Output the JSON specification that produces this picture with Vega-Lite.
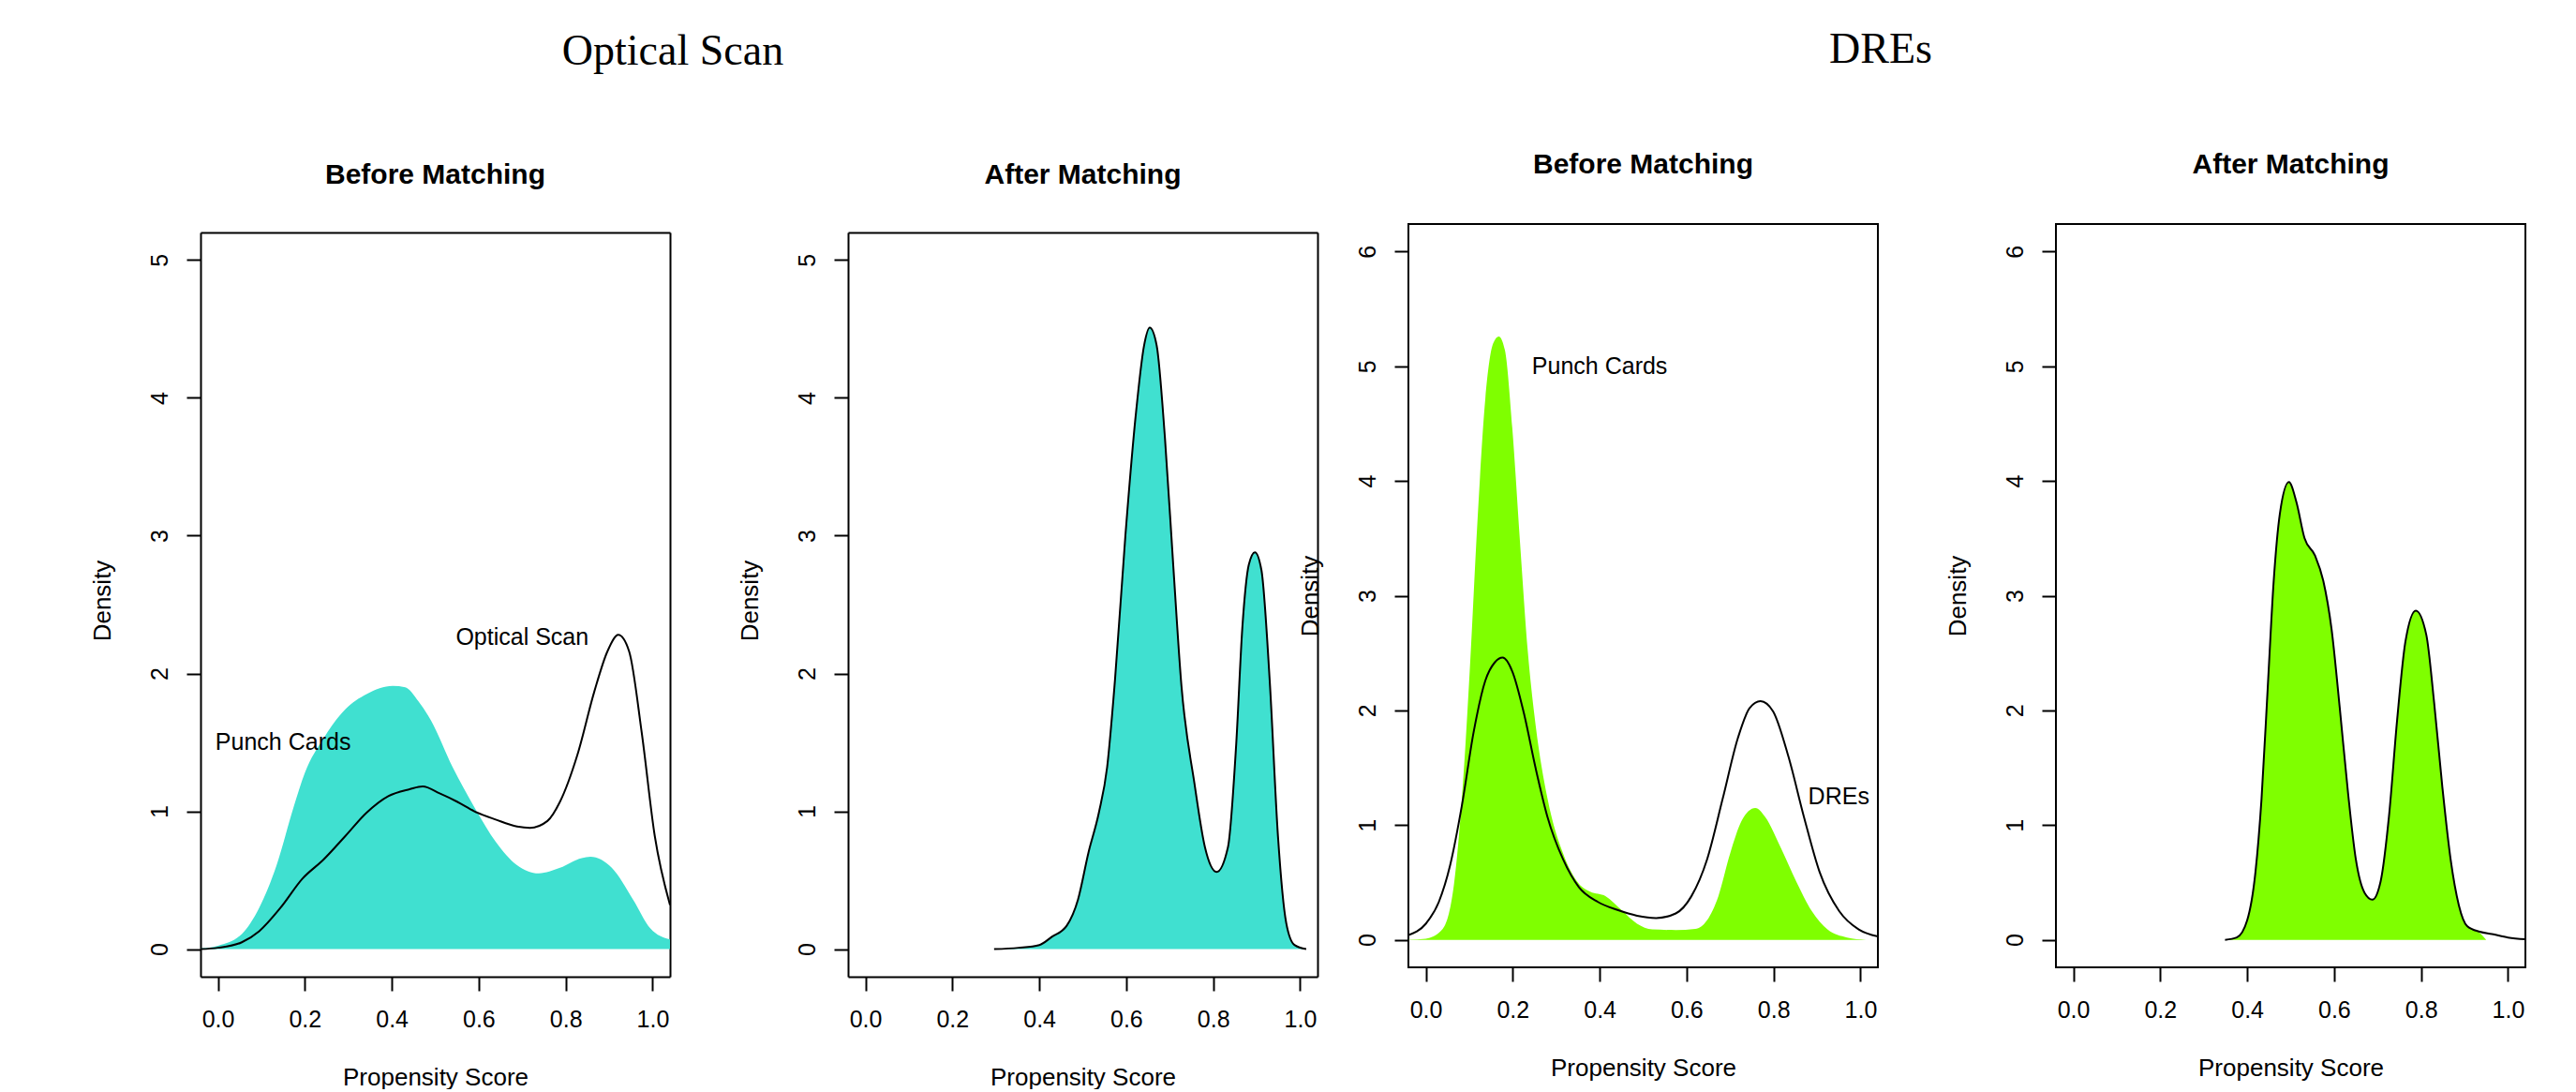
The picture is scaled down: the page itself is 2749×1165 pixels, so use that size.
{
  "$schema": "https://vega.github.io/schema/vega-lite/v6.json",
  "background": "white",
  "autosize": {"type": "pad"},
  "padding": {"left": 96, "top": 30, "right": 0, "bottom": 0},
  "config": {
    "font": "Liberation Sans",
    "view": {"stroke": "black", "strokeWidth": 2},
    "axis": {"domain": false, "grid": false, "tickColor": "black", "tickWidth": 2, "tickSize": 15, "labelColor": "black", "labelFont": "Liberation Sans", "labelFontSize": 25, "titleFont": "Liberation Sans", "titleFontSize": 26, "titleFontWeight": "normal", "titleColor": "black"},
    "axisX": {"labelPadding": 18, "titlePadding": 36, "labelAngle": 0},
    "axisY": {"labelAngle": -90, "labelAlign": "center", "labelBaseline": "bottom", "labelPadding": 16, "titlePadding": 36},
    "title": {"font": "Liberation Sans", "fontSize": 30, "fontWeight": "bold", "color": "black", "anchor": "middle"}
  },
  "datasets": {
    "os_before_pc": [
      {"x": -0.04, "y": 0.005}, {"x": 0.0, "y": 0.025}, {"x": 0.055, "y": 0.11}, {"x": 0.095, "y": 0.3}, {"x": 0.135, "y": 0.61}, {"x": 0.174, "y": 1.03}, {"x": 0.2, "y": 1.28}, {"x": 0.243, "y": 1.53}, {"x": 0.293, "y": 1.74}, {"x": 0.342, "y": 1.85}, {"x": 0.402, "y": 1.91}, {"x": 0.431, "y": 1.9}, {"x": 0.461, "y": 1.8}, {"x": 0.49, "y": 1.66}, {"x": 0.54, "y": 1.32}, {"x": 0.59, "y": 1.03}, {"x": 0.639, "y": 0.78}, {"x": 0.688, "y": 0.61}, {"x": 0.738, "y": 0.55}, {"x": 0.787, "y": 0.59}, {"x": 0.837, "y": 0.66}, {"x": 0.857, "y": 0.67}, {"x": 0.906, "y": 0.59}, {"x": 0.955, "y": 0.36}, {"x": 0.995, "y": 0.15}, {"x": 1.04, "y": 0.07}
    ],
    "os_before_os": [
      {"x": -0.04, "y": 0.0}, {"x": 0.0, "y": 0.01}, {"x": 0.055, "y": 0.05}, {"x": 0.095, "y": 0.13}, {"x": 0.144, "y": 0.3}, {"x": 0.194, "y": 0.51}, {"x": 0.243, "y": 0.65}, {"x": 0.293, "y": 0.82}, {"x": 0.342, "y": 0.99}, {"x": 0.392, "y": 1.11}, {"x": 0.441, "y": 1.16}, {"x": 0.471, "y": 1.18}, {"x": 0.51, "y": 1.13}, {"x": 0.55, "y": 1.07}, {"x": 0.59, "y": 1.0}, {"x": 0.639, "y": 0.94}, {"x": 0.688, "y": 0.89}, {"x": 0.718, "y": 0.88}, {"x": 0.758, "y": 0.93}, {"x": 0.787, "y": 1.07}, {"x": 0.827, "y": 1.41}, {"x": 0.866, "y": 1.87}, {"x": 0.896, "y": 2.16}, {"x": 0.921, "y": 2.28}, {"x": 0.946, "y": 2.16}, {"x": 0.975, "y": 1.57}, {"x": 1.005, "y": 0.82}, {"x": 1.04, "y": 0.32}
    ],
    "os_before_labels": [
      {"x": 0.7, "y": 2.26, "label": "Optical Scan"},
      {"x": 0.15, "y": 1.5, "label": "Punch Cards"}
    ],
    "os_after": [
      {"x": 0.296, "y": 0.0}, {"x": 0.352, "y": 0.01}, {"x": 0.4, "y": 0.03}, {"x": 0.429, "y": 0.09}, {"x": 0.463, "y": 0.17}, {"x": 0.489, "y": 0.36}, {"x": 0.513, "y": 0.7}, {"x": 0.537, "y": 0.99}, {"x": 0.556, "y": 1.32}, {"x": 0.574, "y": 1.95}, {"x": 0.598, "y": 3.0}, {"x": 0.622, "y": 3.88}, {"x": 0.641, "y": 4.38}, {"x": 0.654, "y": 4.51}, {"x": 0.67, "y": 4.38}, {"x": 0.689, "y": 3.71}, {"x": 0.708, "y": 2.79}, {"x": 0.727, "y": 1.91}, {"x": 0.757, "y": 1.2}, {"x": 0.781, "y": 0.74}, {"x": 0.808, "y": 0.56}, {"x": 0.834, "y": 0.74}, {"x": 0.853, "y": 1.49}, {"x": 0.867, "y": 2.33}, {"x": 0.882, "y": 2.79}, {"x": 0.896, "y": 2.88}, {"x": 0.911, "y": 2.75}, {"x": 0.93, "y": 1.95}, {"x": 0.949, "y": 0.82}, {"x": 0.968, "y": 0.19}, {"x": 0.987, "y": 0.03}, {"x": 1.014, "y": 0.0}
    ],
    "dre_before_pc": [
      {"x": -0.041, "y": 0.0}, {"x": 0.0, "y": 0.01}, {"x": 0.038, "y": 0.09}, {"x": 0.065, "y": 0.49}, {"x": 0.083, "y": 1.23}, {"x": 0.101, "y": 2.34}, {"x": 0.119, "y": 3.66}, {"x": 0.137, "y": 4.72}, {"x": 0.155, "y": 5.2}, {"x": 0.168, "y": 5.26}, {"x": 0.182, "y": 5.14}, {"x": 0.199, "y": 4.46}, {"x": 0.217, "y": 3.45}, {"x": 0.235, "y": 2.5}, {"x": 0.253, "y": 1.86}, {"x": 0.28, "y": 1.23}, {"x": 0.316, "y": 0.75}, {"x": 0.352, "y": 0.49}, {"x": 0.378, "y": 0.42}, {"x": 0.414, "y": 0.38}, {"x": 0.45, "y": 0.26}, {"x": 0.486, "y": 0.14}, {"x": 0.521, "y": 0.09}, {"x": 0.575, "y": 0.085}, {"x": 0.62, "y": 0.095}, {"x": 0.647, "y": 0.17}, {"x": 0.673, "y": 0.38}, {"x": 0.7, "y": 0.75}, {"x": 0.727, "y": 1.04}, {"x": 0.758, "y": 1.15}, {"x": 0.781, "y": 1.07}, {"x": 0.817, "y": 0.8}, {"x": 0.852, "y": 0.51}, {"x": 0.888, "y": 0.25}, {"x": 0.924, "y": 0.09}, {"x": 0.969, "y": 0.02}, {"x": 1.013, "y": 0.0}
    ],
    "dre_before_dre": [
      {"x": -0.041, "y": 0.04}, {"x": 0.0, "y": 0.14}, {"x": 0.03, "y": 0.33}, {"x": 0.056, "y": 0.65}, {"x": 0.083, "y": 1.17}, {"x": 0.11, "y": 1.81}, {"x": 0.137, "y": 2.26}, {"x": 0.159, "y": 2.42}, {"x": 0.177, "y": 2.46}, {"x": 0.199, "y": 2.34}, {"x": 0.226, "y": 1.97}, {"x": 0.253, "y": 1.49}, {"x": 0.28, "y": 1.07}, {"x": 0.316, "y": 0.7}, {"x": 0.352, "y": 0.46}, {"x": 0.396, "y": 0.33}, {"x": 0.441, "y": 0.26}, {"x": 0.486, "y": 0.21}, {"x": 0.53, "y": 0.19}, {"x": 0.575, "y": 0.23}, {"x": 0.611, "y": 0.38}, {"x": 0.647, "y": 0.7}, {"x": 0.683, "y": 1.23}, {"x": 0.718, "y": 1.76}, {"x": 0.745, "y": 2.02}, {"x": 0.77, "y": 2.08}, {"x": 0.799, "y": 1.99}, {"x": 0.834, "y": 1.6}, {"x": 0.87, "y": 1.07}, {"x": 0.906, "y": 0.59}, {"x": 0.951, "y": 0.25}, {"x": 0.996, "y": 0.09}, {"x": 1.04, "y": 0.03}
    ],
    "dre_before_labels": [
      {"x": 0.4, "y": 5.0, "label": "Punch Cards"},
      {"x": 0.95, "y": 1.25, "label": "DREs"}
    ],
    "dre_after_fill": [
      {"x": 0.349, "y": 0.0}, {"x": 0.376, "y": 0.02}, {"x": 0.4, "y": 0.17}, {"x": 0.419, "y": 0.59}, {"x": 0.433, "y": 1.23}, {"x": 0.447, "y": 2.18}, {"x": 0.461, "y": 3.13}, {"x": 0.475, "y": 3.71}, {"x": 0.496, "y": 3.99}, {"x": 0.513, "y": 3.82}, {"x": 0.532, "y": 3.5}, {"x": 0.556, "y": 3.35}, {"x": 0.575, "y": 3.13}, {"x": 0.594, "y": 2.71}, {"x": 0.613, "y": 2.02}, {"x": 0.632, "y": 1.28}, {"x": 0.65, "y": 0.7}, {"x": 0.67, "y": 0.41}, {"x": 0.688, "y": 0.35}, {"x": 0.707, "y": 0.51}, {"x": 0.726, "y": 1.07}, {"x": 0.745, "y": 1.92}, {"x": 0.764, "y": 2.6}, {"x": 0.788, "y": 2.87}, {"x": 0.812, "y": 2.66}, {"x": 0.83, "y": 2.07}, {"x": 0.849, "y": 1.33}, {"x": 0.868, "y": 0.7}, {"x": 0.887, "y": 0.3}, {"x": 0.906, "y": 0.12}, {"x": 0.935, "y": 0.06}, {"x": 0.95, "y": 0.0}
    ],
    "dre_after_line": [
      {"x": 0.349, "y": 0.0}, {"x": 0.376, "y": 0.02}, {"x": 0.4, "y": 0.17}, {"x": 0.419, "y": 0.59}, {"x": 0.433, "y": 1.23}, {"x": 0.447, "y": 2.18}, {"x": 0.461, "y": 3.13}, {"x": 0.475, "y": 3.71}, {"x": 0.496, "y": 3.99}, {"x": 0.513, "y": 3.82}, {"x": 0.532, "y": 3.5}, {"x": 0.556, "y": 3.35}, {"x": 0.575, "y": 3.13}, {"x": 0.594, "y": 2.71}, {"x": 0.613, "y": 2.02}, {"x": 0.632, "y": 1.28}, {"x": 0.65, "y": 0.7}, {"x": 0.67, "y": 0.41}, {"x": 0.688, "y": 0.35}, {"x": 0.707, "y": 0.51}, {"x": 0.726, "y": 1.07}, {"x": 0.745, "y": 1.92}, {"x": 0.764, "y": 2.6}, {"x": 0.788, "y": 2.87}, {"x": 0.812, "y": 2.66}, {"x": 0.83, "y": 2.07}, {"x": 0.849, "y": 1.33}, {"x": 0.868, "y": 0.7}, {"x": 0.887, "y": 0.3}, {"x": 0.906, "y": 0.12}, {"x": 0.935, "y": 0.07}, {"x": 0.963, "y": 0.05}, {"x": 1.0, "y": 0.02}, {"x": 1.04, "y": 0.005}
    ]
  },
  "hconcat": [
    {
      "title": {"text": "Optical Scan", "font": "Liberation Serif", "fontSize": 46, "fontWeight": "normal", "anchor": "middle", "offset": 93, "dx": -33},
      "bounds": "flush",
      "spacing": 190,
      "hconcat": [
        {
          "width": 501, "height": 803,
          "view": {"stroke": null},
          "title": {"text": "Before Matching", "offset": 37},
          "resolve": {"axis": {"x": "independent", "y": "independent"}},
          "layer": [
            {
              "encoding": {
                "x": {"field": "x", "type": "quantitative", "scale": {"domain": [-0.04, 1.04], "nice": false, "zero": false}, "axis": {"values": [0, 0.2, 0.4, 0.6, 0.8, 1], "format": ".1f", "title": "Propensity Score", "domain": true, "domainColor": "black", "domainWidth": 2}},
                "y": {"field": "y", "type": "quantitative", "scale": {"domain": [-0.2, 5.2612], "nice": false, "zero": false}, "axis": {"values": [0, 1, 2, 3, 4, 5], "format": "d", "title": "Density", "domain": true, "domainColor": "black", "domainWidth": 2, "domainDash": [794, 1000]}}
              },
              "layer": [
                {"data": {"name": "os_before_pc"}, "mark": {"type": "area", "color": "#40E0D0", "interpolate": "monotone", "clip": true}, "encoding": {"y2": {"datum": 0}}},
                {"data": {"name": "os_before_labels"}, "mark": {"type": "text", "fontSize": 25, "font": "Liberation Sans", "color": "black"}, "encoding": {"text": {"field": "label"}}}
              ]
            },
            {
              "data": {"name": "os_before_os"},
              "mark": {"type": "line", "color": "black", "strokeWidth": 2, "interpolate": "monotone", "clip": true},
              "encoding": {
                "x": {"field": "x", "type": "quantitative", "axis": {"orient": "top", "offset": -9, "domain": true, "domainColor": "black", "domainWidth": 2, "ticks": false, "labels": false, "title": null}},
                "y": {"field": "y", "type": "quantitative", "axis": {"orient": "right", "domain": true, "domainColor": "black", "domainWidth": 2, "domainDash": [794, 1000], "ticks": false, "labels": false, "title": null}}
              }
            }
          ]
        },
        {
          "width": 501, "height": 803,
          "view": {"stroke": null},
          "title": {"text": "After Matching", "offset": 37},
          "resolve": {"axis": {"x": "independent", "y": "independent"}},
          "layer": [
            {
              "data": {"name": "os_after"},
              "mark": {"type": "area", "color": "#40E0D0", "interpolate": "monotone", "clip": true},
              "encoding": {
                "x": {"field": "x", "type": "quantitative", "scale": {"domain": [-0.04, 1.04], "nice": false, "zero": false}, "axis": {"values": [0, 0.2, 0.4, 0.6, 0.8, 1], "format": ".1f", "title": "Propensity Score", "domain": true, "domainColor": "black", "domainWidth": 2}},
                "y": {"field": "y", "type": "quantitative", "scale": {"domain": [-0.2, 5.2612], "nice": false, "zero": false}, "axis": {"values": [0, 1, 2, 3, 4, 5], "format": "d", "title": "Density", "domain": true, "domainColor": "black", "domainWidth": 2, "domainDash": [794, 1000]}},
                "y2": {"datum": 0}
              }
            },
            {
              "data": {"name": "os_after"},
              "mark": {"type": "line", "color": "black", "strokeWidth": 2, "interpolate": "monotone", "clip": true},
              "encoding": {
                "x": {"field": "x", "type": "quantitative", "axis": {"orient": "top", "offset": -9, "domain": true, "domainColor": "black", "domainWidth": 2, "ticks": false, "labels": false, "title": null}},
                "y": {"field": "y", "type": "quantitative", "axis": {"orient": "right", "domain": true, "domainColor": "black", "domainWidth": 2, "domainDash": [794, 1000], "ticks": false, "labels": false, "title": null}}
              }
            }
          ]
        }
      ]
    },
    {
      "title": {"text": "DREs", "font": "Liberation Serif", "fontSize": 46, "fontWeight": "normal", "anchor": "middle", "offset": 83, "dx": -33},
      "bounds": "flush",
      "spacing": 190,
      "hconcat": [
        {
          "width": 501, "height": 793,
          "title": {"text": "Before Matching", "offset": 48},
          "encoding": {
            "x": {"field": "x", "type": "quantitative", "scale": {"domain": [-0.04, 1.04], "nice": false, "zero": false}, "axis": {"values": [0, 0.2, 0.4, 0.6, 0.8, 1], "format": ".1f", "title": "Propensity Score"}},
            "y": {"field": "y", "type": "quantitative", "scale": {"domain": [-0.24, 6.24], "nice": false, "zero": false}, "axis": {"values": [0, 1, 2, 3, 4, 5, 6], "format": "d", "title": "Density"}}
          },
          "layer": [
            {"data": {"name": "dre_before_pc"}, "mark": {"type": "area", "color": "#7FFF00", "interpolate": "monotone", "clip": true}, "encoding": {"y2": {"datum": 0}}},
            {"data": {"name": "dre_before_dre"}, "mark": {"type": "line", "color": "black", "strokeWidth": 2, "interpolate": "monotone", "clip": true}, "encoding": {}},
            {"data": {"name": "dre_before_labels"}, "mark": {"type": "text", "fontSize": 25, "font": "Liberation Sans", "color": "black"}, "encoding": {"text": {"field": "label"}}}
          ]
        },
        {
          "width": 501, "height": 793,
          "title": {"text": "After Matching", "offset": 48},
          "encoding": {
            "x": {"field": "x", "type": "quantitative", "scale": {"domain": [-0.04, 1.04], "nice": false, "zero": false}, "axis": {"values": [0, 0.2, 0.4, 0.6, 0.8, 1], "format": ".1f", "title": "Propensity Score"}},
            "y": {"field": "y", "type": "quantitative", "scale": {"domain": [-0.24, 6.24], "nice": false, "zero": false}, "axis": {"values": [0, 1, 2, 3, 4, 5, 6], "format": "d", "title": "Density"}}
          },
          "layer": [
            {"data": {"name": "dre_after_fill"}, "mark": {"type": "area", "color": "#7FFF00", "interpolate": "monotone", "clip": true}, "encoding": {"y2": {"datum": 0}}},
            {"data": {"name": "dre_after_line"}, "mark": {"type": "line", "color": "black", "strokeWidth": 2, "interpolate": "monotone", "clip": true}, "encoding": {}}
          ]
        }
      ]
    }
  ],
  "spacing": -22
}
